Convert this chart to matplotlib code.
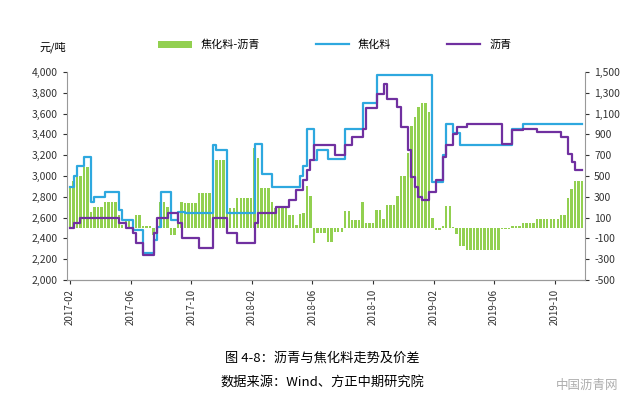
import matplotlib.pyplot as plt
import numpy as np

plt.rcParams['font.family'] = ['Noto Sans CJK SC']

# months since 2017-02 -> value (step breakpoints)
jiao_t = [0, 0.17, 0.44, 0.72, 1.38, 1.6, 2.1, 3.0, 3.45, 4.0, 4.1, 4.66, 5.3, 5.64, 5.86, 6.47,
          7.06, 7.5, 9.36, 9.57, 10.34, 11.98, 12.63, 13.3, 13.6, 13.7, 15.04, 15.4, 15.6, 16.0,
          16.24, 17.0, 18.1, 19.2, 20.2, 23.8, 24.4, 24.8, 25.1, 25.7, 29.2, 29.7]
jiao_v = [2896, 3000, 3095, 3184, 2752, 2800, 2848, 2672, 2576, 2500, 2480, 2260, 2384, 2512, 2848, 2576,
          2656, 2640, 3296, 3248, 2640, 3312, 3024, 2896, 2800, 2896, 3000, 3100, 3456, 3152,
          3248, 3162, 3456, 3702, 3968, 2944, 3200, 3504, 3411, 3296, 3456, 3504]

liq_t = [0, 0.17, 0.61, 3.13, 3.67, 4.0, 4.2, 4.77, 5.3, 5.64, 6.3, 7.06, 7.17, 8.48, 9.25,
         10.34, 10.89, 11.98, 12.2, 13.5, 14.4, 14.8, 15.26, 15.5, 15.7, 16.0, 17.44, 18.1, 18.5,
         19.1, 19.4, 20.2, 20.6, 20.7, 20.9, 21.4, 21.6, 21.8, 22.1, 22.4, 22.7, 23.0, 23.2, 23.6,
         24.0, 24.4, 24.8, 25.1, 25.5, 26.0, 27.9, 28.4, 28.8, 29.1, 29.7, 30.6, 32.1, 32.3, 32.7,
         33.0, 33.3]
liq_v = [2500, 2547, 2595, 2547, 2500, 2451, 2355, 2240, 2451, 2595, 2643, 2547, 2403, 2307, 2595,
         2451, 2355, 2547, 2643, 2704, 2771, 2864, 2960, 3056, 3150, 3296, 3200, 3296, 3376,
         3450, 3650, 3792, 3840, 3880, 3744, 3720, 3664, 3472, 3248, 2992, 2896, 2800, 2768, 2848,
         2960, 3184, 3296, 3400, 3472, 3504, 3504, 3308, 3308, 3440, 3456, 3421, 3421, 3376, 3216,
         3130, 3056]

tick_labels = ['2017-02', '2017-06', '2017-10', '2018-02', '2018-06', '2018-10',
               '2019-02', '2019-06', '2019-10']

weeks = np.arange(0, 34.0, 0.23)


def steps(bt, bv):
    idx = np.searchsorted(np.array(bt), weeks, side='right') - 1
    return np.array(bv)[np.clip(idx, 0, None)]


jiao = steps(jiao_t, jiao_v)
liq = steps(liq_t, liq_v)
diff = jiao - liq

fig = plt.figure(figsize=(6.44, 4.11), dpi=100)
ax1 = fig.add_axes([67 / 644, 1 - 280 / 411, 518 / 644, 208 / 411])
ax2 = ax1.twinx()
ax2.bar(weeks, diff, width=0.16, color='#92D050', label='焦化料-沥青', zorder=1)
ax1.set_zorder(ax2.get_zorder() + 1)
ax1.patch.set_visible(False)
l1, = ax1.plot(weeks, jiao, color='#2EA8DF', lw=1.6, drawstyle='steps-post', label='焦化料')
l2, = ax1.plot(weeks, liq, color='#7030A0', lw=1.6, drawstyle='steps-post', label='沥青')

ax1.set_xlim(-0.2, 34.0)
ax1.set_ylim(2000, 4000)
ax1.set_yticks(range(2000, 4001, 200))
ax1.set_yticklabels([f'{v:,}' for v in range(2000, 4001, 200)], fontsize=7.5)
ax2.set_ylim(-500, 1500)
ax2.set_yticks(range(-500, 1501, 200))
ax2.set_yticklabels([f'{v:,}' for v in range(-500, 1501, 200)], fontsize=7.5)
ax1.set_xticks(range(0, 33, 4))
ax1.set_xticklabels(tick_labels, rotation=90, fontsize=7)
for ax in (ax1, ax2):
    for s in ('top',):
        ax.spines[s].set_visible(False)
    for s in ('left', 'right', 'bottom'):
        ax.spines[s].set_color('#999999')
    ax.tick_params(colors='#333333', length=3)
ax1.spines['right'].set_visible(False)
ax2.spines['left'].set_visible(False)

fig.text(40 / 644, 1 - 47 / 411, '元/吨', fontsize=8, va='center')
h2, lab2 = ax2.get_legend_handles_labels()
fig.legend(h2 + [l1, l2], lab2 + ['焦化料', '沥青'], loc='center', ncol=3,
           bbox_to_anchor=(0.52, 1 - 45 / 411), frameon=False, fontsize=8,
           handlelength=3, columnspacing=5)

fig.text(0.5, 1 - 358 / 411, '图 4-8：沥青与焦化料走势及价差', ha='center', va='center', fontsize=9.5)
fig.text(0.5, 1 - 383 / 411, '数据来源：Wind、方正中期研究院', ha='center', va='center', fontsize=9.5)
fig.text(0.96, 1 - 385 / 411, '中国沥青网', ha='right', va='center', fontsize=9, color='#777777', alpha=0.6)

fig.savefig('out.png', dpi=100)
